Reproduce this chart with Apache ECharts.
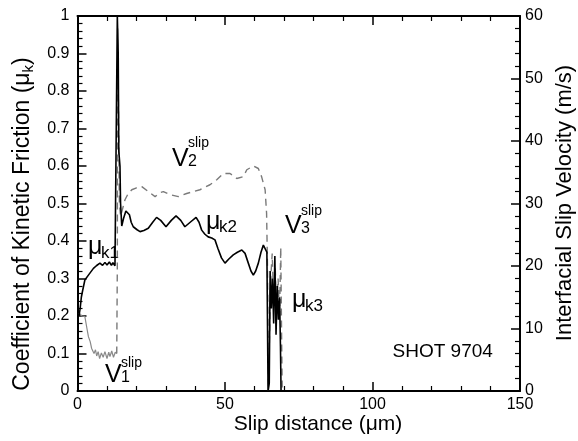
<!DOCTYPE html>
<html>
<head>
<meta charset="utf-8">
<script src="https://cdn.jsdelivr.net/npm/echarts@6/dist/echarts.min.js"></script>
<style>
html, body { margin: 0; padding: 0; background: #fff; }
#main { width: 578px; height: 441px; }
</style>
</head>
<body>
<div id="main"></div>
<script>
// friction coefficient (left axis)
var muDist = [0.5, 0.9, 1.3, 1.8, 2.5, 3.7, 5.4, 6.4, 7.6, 8.5, 9.3, 10, 10.8, 11.5, 12, 12.7, 13.3, 13.5, 13.8, 14.0, 14.4, 14.6, 15.0, 15.6, 16.4, 17.0, 17.6, 18.2, 18.9, 19.5, 20.2, 21.2, 22.5, 24.0, 25.5, 26.8, 28.2, 30.0, 31.8, 33.4, 35.0, 36.4, 38.2, 40.2, 41.2, 42.1, 43.2, 44.3, 45.5, 46.6, 47.6, 48.8, 50.0, 51.3, 52.8, 54.2, 55.7, 56.8, 57.9, 58.8, 59.6, 60.4, 61.3, 62.2, 63.0, 63.6, 64.2, 64.6, 65.0, 65.3, 65.7, 66.1, 66.5, 66.9, 67.3, 67.7, 68.1, 68.5, 68.8, 69.0];
var muVal = [0.20, 0.22, 0.25, 0.27, 0.296, 0.309, 0.327, 0.334, 0.341, 0.335, 0.343, 0.336, 0.344, 0.335, 0.342, 0.334, 0.336, 1.0, 0.9, 0.64, 0.60, 0.50, 0.44, 0.46, 0.48, 0.485, 0.47, 0.45, 0.438, 0.44, 0.43, 0.425, 0.428, 0.434, 0.45, 0.463, 0.455, 0.438, 0.455, 0.467, 0.455, 0.438, 0.45, 0.463, 0.45, 0.429, 0.418, 0.411, 0.408, 0.403, 0.38, 0.355, 0.341, 0.352, 0.363, 0.37, 0.376, 0.367, 0.341, 0.32, 0.309, 0.32, 0.341, 0.37, 0.389, 0.394, 0.37, 0.0, 0.02, 0.32, 0.22, 0.30, 0.18, 0.36, 0.15, 0.28, 0.19, 0.25, 0.12, 0.0];

// interfacial slip velocity (right axis, m/s)
var velDist = [0.5, 1.5, 2.5, 3.2, 3.7, 4.3, 4.8, 5.6, 6.1, 6.5, 7.0, 7.5, 8.1, 8.7, 9.3, 10, 10.6, 11, 11.6, 12.2, 12.8, 13.3, 13.5, 13.6, 13.9, 14.2, 14.6, 15.2, 16.1, 17.2, 18.4, 20, 21.8, 24.0, 26.3, 27.8, 29.1, 31.4, 34.2, 37.0, 39.3, 41.5, 44.9, 47.2, 49.4, 51.7, 54.0, 56.2, 57.4, 59.6, 61.3, 62.4, 63.6, 64.1, 64.4, 64.7, 65.2, 65.5, 66.0, 66.5, 67.0, 67.5, 68.0, 68.5, 68.9, 69.2, 69.4];
var velVal = [12.5, 12.0, 11.9, 10, 8.7, 7.9, 6.8, 6.0, 6.6, 5.6, 6.3, 5.2, 6.1, 5.4, 6.3, 5.2, 6.2, 5.5, 6.4, 5.4, 6.2, 6.0, 20, 58, 45, 30, 28, 29, 30.6, 31.6, 32.2, 32.5, 32.7, 31.9, 31.1, 31.7, 31.9, 31.4, 31.1, 31.6, 31.9, 32.2, 33.0, 33.8, 34.8, 34.8, 34.0, 34.3, 35.4, 36.0, 35.6, 34.3, 32.2, 28.4, 20, 0, 0, 18, 22, 14, 20, 13, 18, 12, 23, 8, 0];
var velSolidEnd = 22; // first noisy stretch (up to 13.3 um) prints as a solid grey trace

var xTicks = [0, 50, 100, 150];
var muTicks = [0, 1];
var velTicks = [0, 60];

var font = "'Liberation Sans', Arial, Helvetica, sans-serif";

function zip(a, b) {
	var out = [];
	for (var i = 0; i < a.length; i++) {
		out.push([a[i], b[i]]);
	}
	return out;
}

function xAxisCfg(pos, showLabel) {
	return {
		type: 'value',
		position: pos,
		min: xTicks[0],
		max: xTicks[xTicks.length - 1],
		interval: 50,
		axisLine: { show: true, onZero: false, lineStyle: { color: '#000', width: 2 } },
		axisTick: { show: true, inside: true, length: 9, lineStyle: { color: '#000', width: 1.5 } },
		minorTick: { show: true, splitNumber: 5, length: 5, lineStyle: { color: '#000', width: 1.2 } },
		axisLabel: { show: showLabel, margin: 6, color: '#000', fontSize: 16, fontFamily: font },
		splitLine: { show: false }
	};
}

function yAxisCfg(pos, ticks, interval) {
	return {
		type: 'value',
		position: pos,
		min: ticks[0],
		max: ticks[1],
		interval: interval,
		axisLine: { show: true, onZero: false, lineStyle: { color: '#000', width: 2 } },
		axisTick: { show: true, inside: true, length: 9, lineStyle: { color: '#000', width: 1.5 } },
		minorTick: { show: true, splitNumber: 5, length: 5, lineStyle: { color: '#000', width: 1.2 } },
		axisLabel: { margin: pos == 'left' ? 8 : 5, color: '#000', fontSize: 16, fontFamily: font },
		splitLine: { show: false }
	};
}

var velData = zip(velDist, velVal);

var chart = echarts.init(document.getElementById('main'));
chart.setOption({
	animation: false,
	backgroundColor: '#fff',
	grid: { left: 77.5, right: 58, top: 16, bottom: 50 },
	xAxis: [xAxisCfg('bottom', true), xAxisCfg('top', false)],
	yAxis: [yAxisCfg('left', muTicks, 0.1), yAxisCfg('right', velTicks, 10)],
	series: [{
		name: 'velocity1',
		type: 'line',
		xAxisIndex: 0,
		yAxisIndex: 1,
		showSymbol: false,
		lineStyle: { color: '#8a8a8a', width: 1.2 },
		data: velData.slice(0, velSolidEnd)
	}, {
		name: 'velocity',
		type: 'line',
		xAxisIndex: 0,
		yAxisIndex: 1,
		showSymbol: false,
		lineStyle: { color: '#7a7a7a', width: 1.4, type: [7, 5] },
		data: velData.slice(velSolidEnd - 1)
	}, {
		name: 'friction',
		type: 'line',
		xAxisIndex: 0,
		yAxisIndex: 0,
		showSymbol: false,
		lineStyle: { color: '#000', width: 1.6 },
		data: zip(muDist, muVal)
	}]
});

// annotations, anchored in data coordinates (x, mu) at the main glyph's baseline
var muLabels = [
	{ x: 3.56, y: 0.376, sub: 'k1' },
	{ x: 43.56, y: 0.445, sub: 'k2' },
	{ x: 72.71, y: 0.235, sub: 'k3' }
];
var vLabels = [
	{ x: 9.32, y: 0.037, sub: '1', supDy: -13 },
	{ x: 32.03, y: 0.613, sub: '2', supDy: -17 },
	{ x: 70.34, y: 0.434, sub: '3', supDy: -16 }
];

// text drawn from its top; baseline sits about 0.6 em below
function txt(s, x, baseline, size) {
	return {
		type: 'text',
		style: { text: s, x: x, y: baseline - 0.6 * size, fill: '#000', font: size + 'px ' + font }
	};
}

var g = [];
muLabels.forEach(function(l) {
	var p = chart.convertToPixel({ xAxisIndex: 0, yAxisIndex: 0 }, [l.x, l.y]);
	g.push(txt('\u03bc', p[0], p[1], 25));
	g.push(txt(l.sub, p[0] + 13, p[1] + 5, 17));
});
vLabels.forEach(function(l) {
	var p = chart.convertToPixel({ xAxisIndex: 0, yAxisIndex: 0 }, [l.x, l.y]);
	g.push(txt('V', p[0], p[1], 25));
	g.push(txt('slip', p[0] + 16, p[1] + l.supDy, 14));
	g.push(txt(l.sub, p[0] + 16, p[1] + 2, 16));
});
var sp = chart.convertToPixel({ xAxisIndex: 0, yAxisIndex: 0 }, [140.8, 0.099]);
var shot = txt('SHOT 9704', sp[0], sp[1], 19);
shot.style.align = 'right';
g.push(shot);

// axis titles
g.push({
	type: 'text',
	x: 318, y: 424,
	style: { text: 'Slip distance (\u03bcm)', fill: '#000', font: '21px ' + font, align: 'center', verticalAlign: 'middle' }
});
g.push({
	type: 'text',
	x: 23, y: 224,
	rotation: Math.PI / 2,
	style: {
		text: '{a|Coefficient of Kinetic Friction (\u03bc}{b|k}{a|)}',
		align: 'center',
		verticalAlign: 'middle',
		rich: {
			a: { fontSize: 23, fontFamily: font, fill: '#000' },
			b: { fontSize: 15, fontFamily: font, fill: '#000', padding: [12, 0, 0, 0] }
		}
	}
});
g.push({
	type: 'text',
	x: 565, y: 203,
	rotation: Math.PI / 2,
	style: { text: 'Interfacial Slip Velocity (m/s)', fill: '#000', font: '22px ' + font, align: 'center', verticalAlign: 'middle' }
});

chart.setOption({ graphic: g });
</script>
</body>
</html>
